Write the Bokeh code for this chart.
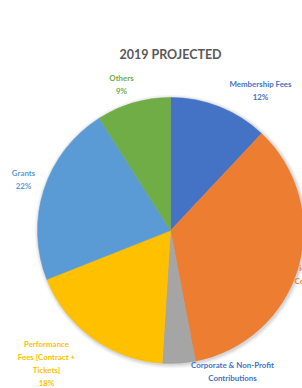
import math
from bokeh.plotting import figure
from bokeh.models import Range1d, ColumnDataSource
from bokeh.core.properties import value
from bokeh.embed import file_html
from bokeh.resources import INLINE

# ---- data ----
title_text = "2019 PROJECTED"
categories = ["Membership Fees", "Ticket Sales &\nContracts",
              "Corporate & Non-Profit\nContributions",
              "Performance\nFees [Contract +\nTickets]", "Grants", "Others"]
percents = [12, 35, 4, 18, 22, 9]

# ---- styles / layout ----
colors = ["#4472C4", "#ED7D31", "#A5A5A5", "#FFC000", "#5B9BD5", "#70AD47"]
label_colors = ["#4472C4", "#ED7D31", "#4472C4", "#FFC000", "#5B9BD5", "#70AD47"]
label_align = ["center", "left", "center", "center", "center", "center"]
label_sep = ["\n", " ", "\n", "\n", "\n", "\n"]
W, H = 302, 388
def sx(x):
    return x
def sy(y):
    return H - y
cx, cy, R = sx(170), sy(230), 133
label_pos = [(260, 90), (294, 274), (232, 378), (46, 363), (23, 179), (121, 84)]

p = figure(width=W, height=H, output_backend="svg", toolbar_location=None,
           x_range=Range1d(0, W), y_range=Range1d(0, H), min_border=0)
p.axis.visible = False
p.grid.visible = False
p.outline_line_color = None
p.background_fill_color = "white"

# soft shadow
for k, a in [(4, 0.05), (3, 0.07), (2, 0.09), (1, 0.12)]:
    p.circle(x=[cx + 1], y=[cy - 1], radius=R + k, radius_units="screen",
             fill_color="#7f7f7f", fill_alpha=a, line_color=None)

total = sum(percents)
starts, ends = [], []
cum = 0.0
for v in percents:
    a0 = math.pi / 2 - 2 * math.pi * cum / total
    cum += v
    a1 = math.pi / 2 - 2 * math.pi * cum / total
    starts.append(a0)
    ends.append(a1)

src = ColumnDataSource(dict(start=starts, end=ends, color=colors))
p.wedge(x=cx, y=cy, radius=R, radius_units="screen", start_angle="start",
        end_angle="end", direction="clock", fill_color="color",
        line_color="color", line_width=0.5, source=src)

labels = [f"{c}{s}{v}%" for c, s, v in zip(categories, label_sep, percents)]
lsrc = ColumnDataSource(dict(x=[sx(x) for x, _ in label_pos],
                             y=[sy(y) for _, y in label_pos],
                             text=labels, color=label_colors, align=label_align))
p.text(x="x", y="y", text="text", source=lsrc, text_color="color",
       text_font=value("Lato"), text_font_style="bold", text_font_size="7.9px",
       text_align="align", text_baseline="middle", text_line_height=1.32)

p.text(x=[sx(170)], y=[sy(54)], text=[title_text], text_color="#595959",
       text_font=value("Lato"), text_font_style="bold", text_font_size="12.5px",
       text_align="center", text_baseline="middle")

open("out.html", "w").write(file_html(p, INLINE))
